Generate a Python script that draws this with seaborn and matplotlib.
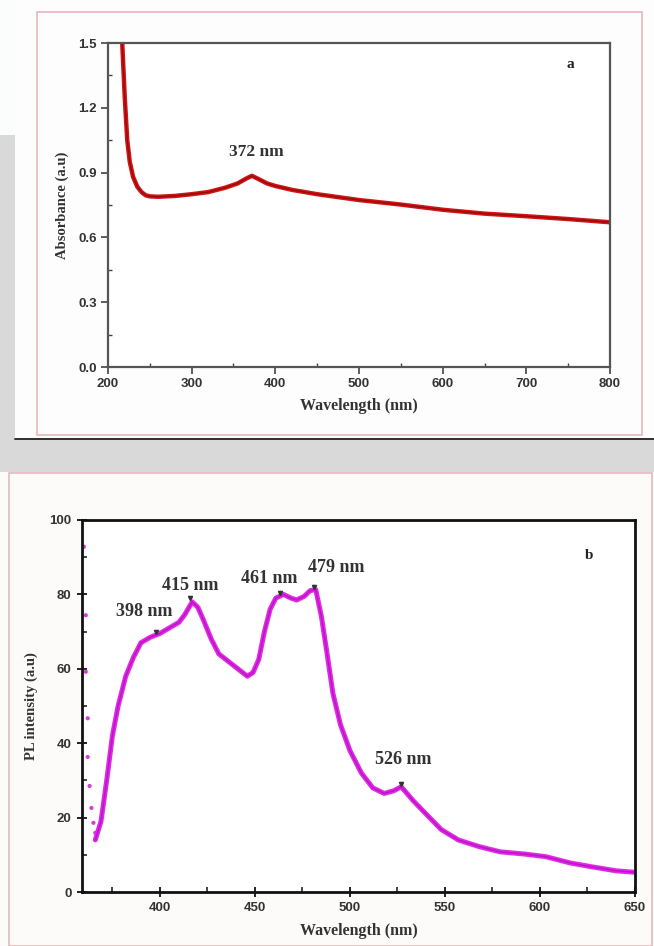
import numpy as np
import pandas as pd
import seaborn as sns
import matplotlib.pyplot as plt
from matplotlib.patches import Rectangle
from matplotlib.ticker import MultipleLocator

sns.set_theme(style="white")
plt.rcParams['font.family'] = ['Liberation Sans', 'DejaVu Sans']

# ---- Panel a: UV-Vis absorbance ----
abs_wl = [217, 220, 223, 226, 230, 235, 240, 245, 250, 260, 280, 300, 320, 340, 355, 365,
          372, 380, 390, 400, 420, 450, 500, 550, 600, 650, 700, 750, 800]
abs_val = [1.50, 1.25, 1.05, 0.95, 0.88, 0.835, 0.81, 0.795, 0.79, 0.788, 0.792, 0.80, 0.81,
           0.83, 0.85, 0.872, 0.885, 0.87, 0.85, 0.838, 0.82, 0.80, 0.773, 0.752, 0.728,
           0.71, 0.698, 0.685, 0.67]

# ---- Panel b: PL emission ----
pl_wl = [366, 369, 372, 375, 378, 382, 386, 390, 395, 400, 405, 410, 413, 417, 420, 423, 427,
         431, 436, 441, 446, 449, 452, 455, 458, 461, 465, 469, 472, 476, 479, 482, 485, 488,
         491, 495, 500, 506, 512, 518, 523, 527, 533, 540, 548, 557, 568, 579, 592, 603, 616,
         627, 640, 650]
pl_val = [14, 19, 30, 42, 50, 58, 63, 67, 68.5, 69.5, 71, 72.5, 74.5, 78, 76.5, 73, 68,
          64, 62, 60, 58, 59, 62.5, 70, 76, 79, 80, 79, 78.5, 79.5, 81, 81.3, 74, 64,
          53.5, 45, 38, 32, 28, 26.5, 27.2, 28.3, 24.7, 21, 16.8, 14, 12.2, 10.8, 10.2, 9.5, 7.8,
          6.8, 5.7, 5.3]
pl_dot_wl = [360, 361, 361, 362, 362, 363, 364, 365, 366]
pl_dot_val = [92.8, 74.4, 59.2, 46.7, 36.3, 28.5, 22.6, 18.6, 15.9]

abs_peaks = ["372 nm"]
pl_peaks = ["398 nm", "415 nm", "461 nm", "479 nm", "526 nm"]

df_a = pd.DataFrame({"wl": abs_wl, "val": abs_val})
df_b = pd.DataFrame({"wl": pl_wl, "val": pl_val})
df_bd = pd.DataFrame({"wl": pl_dot_wl, "val": pl_dot_val})

W, H = 654, 946
fig = plt.figure(figsize=(W / 100, H / 100), dpi=100, facecolor='#d9d9d9')

def fx(x):
    return x / W

def fy(y):
    return 1 - y / H

# white panel backgrounds and pink frames
fig.patches.append(Rectangle((0, fy(135)), fx(16), 135 / H, transform=fig.transFigure,
                             facecolor='#fbfcfc', edgecolor='none', zorder=-10))
fig.patches.append(Rectangle((fx(15), fy(438)), fx(639), 438 / H, transform=fig.transFigure,
                             facecolor='#fdfdfd', edgecolor='none', zorder=-10))
fig.patches.append(Rectangle((fx(37), fy(435)), fx(605), 423 / H, transform=fig.transFigure,
                             facecolor='none', edgecolor='#e8b8bc', lw=1.2, zorder=-9))
fig.add_artist(plt.Line2D([fx(15), 1], [fy(439), fy(439)], transform=fig.transFigure,
                          color='#222222', lw=1.3))
fig.patches.append(Rectangle((0, 0), 1, 1 - 472 / H, transform=fig.transFigure,
                             facecolor='#fdfbfa', edgecolor='none', zorder=-10))
fig.patches.append(Rectangle((fx(9), fy(946)), fx(643), 473 / H, transform=fig.transFigure,
                             facecolor='none', edgecolor='#e8b8bc', lw=1.2, zorder=-9))

tick_font = dict(family='Liberation Sans', weight='bold', size=9.5)
lab_font = dict(family='Liberation Serif', weight='bold', size=11.5)
ylab_font = dict(family='Liberation Serif', weight='bold', size=10.5)

# ---- Axes a ----
ax1 = fig.add_axes([fx(108), fy(367), fx(610 - 108), (367 - 43) / H])
ax1.set_facecolor('white')
sns.lineplot(data=df_a, x="wl", y="val", ax=ax1, color='#d01515', lw=3.2)
sns.lineplot(data=df_a, x="wl", y="val", ax=ax1, color='#9a0a0a', lw=1.0)
ax1.set_xlim(200, 800)
ax1.set_ylim(0, 1.5)
ax1.set_xticks([200, 300, 400, 500, 600, 700, 800])
ax1.set_xticklabels([str(v) for v in [200, 300, 400, 500, 600, 700, 800]], **tick_font, color='#333333')
ax1.set_yticks([0.0, 0.3, 0.6, 0.9, 1.2, 1.5])
ax1.set_yticklabels(["0.0", "0.3", "0.6", "0.9", "1.2", "1.5"], **tick_font, color='#333333')
ax1.xaxis.set_minor_locator(MultipleLocator(50))
ax1.yaxis.set_minor_locator(MultipleLocator(0.15))
ax1.tick_params(which='major', direction='out', length=5, width=1.2, color='#444444', pad=3,
                bottom=True, left=True)
ax1.tick_params(which='minor', direction='in', length=3, width=1.0, color='#444444',
                bottom=True, left=True)
for s in ax1.spines.values():
    s.set_color('#555555')
    s.set_linewidth(1.6)
ax1.set_xlabel("Wavelength (nm)", **lab_font, color='#333333', labelpad=6)
ax1.set_ylabel("Absorbance (a.u)", **ylab_font, color='#333333', labelpad=7)
ax1.text(377, 0.995, abs_peaks[0], ha='center', va='center', family='Liberation Serif',
         weight='bold', size=12.5, color='#333333')
ax1.text(0.92, 0.935, "a", transform=ax1.transAxes, family='Liberation Serif', weight='bold',
         size=11, color='#222222', ha='center', va='center')

# ---- Axes b ----
ax2 = fig.add_axes([fx(82), fy(892), fx(635 - 82), (892 - 520) / H])
ax2.set_facecolor('white')
sns.lineplot(data=df_b, x="wl", y="val", ax=ax2, color='#e02ae6', lw=3.6)
sns.lineplot(data=df_b, x="wl", y="val", ax=ax2, color='#c014c8', lw=1.2)
sns.scatterplot(data=df_bd, x="wl", y="val", ax=ax2, color='#d040d4', s=9, edgecolor='none')
ax2.set_xlim(359, 650)
ax2.set_ylim(0, 100)
ax2.set_xticks([400, 450, 500, 550, 600, 650])
ax2.set_xticklabels(["400", "450", "500", "550", "600", "650"], **tick_font, color='#333333')
ax2.xaxis.set_minor_locator(MultipleLocator(25))
ax2.set_yticks([0, 20, 40, 60, 80, 100])
ax2.set_yticklabels(["0", "20", "40", "60", "80", "100"], **tick_font, color='#333333')
ax2.yaxis.set_minor_locator(MultipleLocator(10))
ax2.tick_params(which='major', direction='inout', length=7, width=1.4, color='#222222', pad=4,
                bottom=True, left=True)
ax2.tick_params(which='minor', direction='in', length=3.5, width=1.2, color='#222222',
                bottom=True, left=True)
for s in ax2.spines.values():
    s.set_color('#111111')
    s.set_linewidth(2.0)
ax2.set_xlabel("Wavelength (nm)", **lab_font, color='#333333', labelpad=6)
ax2.set_ylabel("PL intensity (a.u)", **ylab_font, color='#333333', labelpad=8)

ann_font = dict(family='Liberation Serif', weight='bold', size=13, color='#333333')
ann = [(398, 70.0, 392, 75.3), (416, 79.0, 416, 82.5), (463, 80.5, 457.4, 84.4),
       (481, 82.0, 492.7, 87.1), (527, 29.0, 528, 35.5)]
for lab, (px, py, tx, ty) in zip(pl_peaks, ann):
    ax2.text(tx, ty, lab, ha='center', va='center', **ann_font)
    ax2.plot([px], [py], marker='v', ms=3, color='#333333')
ax2.text(0.917, 0.905, "b", transform=ax2.transAxes, family='Liberation Serif', weight='bold',
         size=11, color='#222222', ha='center', va='center')

fig.savefig("out.png", dpi=100, facecolor=fig.get_facecolor())
